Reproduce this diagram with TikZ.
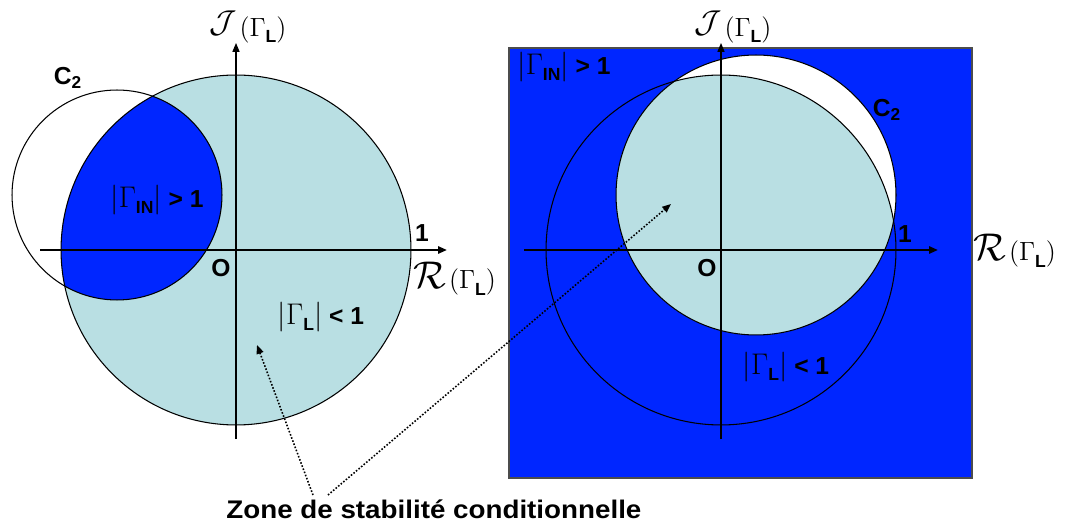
\RequirePackage{fix-cm}
\documentclass[tikz,border=0pt]{standalone}
\usepackage{fontspec}
\setmainfont{Liberation Sans}
\usetikzlibrary{arrows.meta}
\definecolor{dblue}{RGB}{0,38,255}
\definecolor{lblue}{RGB}{185,223,227}
\newcommand{\GL}{{\fontsize{15}{18}\selectfont$(\Gamma$\raisebox{-0.45ex}{\fontsize{10}{12}\selectfont\bfseries L}$)$}}
\newcommand{\Gabs}[1]{{\fontsize{17}{18}\selectfont$|\Gamma$}\raisebox{-0.5ex}{\fontsize{10}{12}\selectfont\bfseries #1}{\fontsize{17}{18}\selectfont$|$}}
\begin{document}
\begin{tikzpicture}[x=0.02cm,y=-0.02cm,
  lab/.style={font=\fontsize{14}{16}\selectfont\bfseries, inner sep=0pt},
  axlab/.style={inner sep=0pt, anchor=west},
  axisv/.style={-{Triangle[length=5pt,width=4pt]}, line width=0.6pt},
  axish/.style={-{Triangle[length=5pt,width=4pt]}, line width=1.2pt},
  circ/.style={line width=0.6pt},
  dotarrow/.style={densely dotted, line width=0.9pt, -{Triangle[length=5pt,width=4pt]}}
]
\useasboundingbox (0,0) rectangle (1067,526);
% ---------- left diagram ----------
\fill[lblue] (236,250) circle[radius=3.5cm];
\begin{scope}
  \clip (236,250) circle[radius=3.5cm];
  \fill[dblue] (117,195) circle[radius=2.1cm];
\end{scope}
\draw[circ] (236,250) circle[radius=3.5cm];
\draw[circ] (117,195) circle[radius=2.1cm];
\coordinate (LxA) at (40,250);  \coordinate (LxB) at (447,250);
\coordinate (LyA) at (236,439); \coordinate (LyB) at (236,43);
\draw[axish] (LxA) -- (LxB);
\draw[axisv] (LyA) -- (LyB);
\node[lab] (lC2) at (68,78) {C\textsubscript{2}};
\node[lab] (lgin) at (157,200) {\Gabs{IN} > 1};
\node[lab] (l1) at (422,233) {1};
\node[lab] (lO) at (221,268) {O};
\node[lab] (lgl) at (321,317) {\Gabs{L} < 1};
\node[axlab] (lR) at (413,279) {{\fontsize{22}{24}\selectfont$\mathcal{R}$}\,\GL};
\node[axlab] (lJ) at (209,27) {\raisebox{2pt}{\fontsize{18}{20}\selectfont$\mathcal{J}$}\,\GL};
% ---------- right diagram ----------
\fill[dblue] (509,48) rectangle (972,478);
\draw[line width=0.6pt, black!70] (509,48) rectangle (972,478);
\fill[white] (756,195) circle[radius=2.8cm];
\begin{scope}
  \clip (756,195) circle[radius=2.8cm];
  \fill[lblue] (721,250) circle[radius=3.5cm];
\end{scope}
\draw[circ] (721,250) circle[radius=3.5cm];
\draw[circ] (756,195) circle[radius=2.8cm];
\coordinate (RxA) at (524,250); \coordinate (RxB) at (938,250);
\coordinate (RyA) at (721,439); \coordinate (RyB) at (721,43);
\draw[axish] (RxA) -- (RxB);
\draw[axisv] (RyA) -- (RyB);
\node[lab] (rgin) at (564,67) {\Gabs{IN} > 1};
\node[lab] (rC2) at (887,110) {C\textsubscript{2}};
\node[lab] (r1) at (905,234) {1};
\node[lab] (rO) at (707,268) {O};
\node[lab] (rgl) at (786,367) {\Gabs{L} < 1};
\node[axlab] (rR) at (973,251) {{\fontsize{22}{24}\selectfont$\mathcal{R}$}\,\GL};
\node[axlab] (rJ) at (694,27) {\raisebox{2pt}{\fontsize{18}{20}\selectfont$\mathcal{J}$}\,\GL};
% ---------- caption and pointers ----------
\node[font=\fontsize{14.5}{17}\selectfont\bfseries\addfontfeatures{FakeStretch=1.09}, inner sep=0pt, anchor=base west] (zone) at (226,518) {Zone de stabilité conditionnelle};
\coordinate (s1) at (313,495); \coordinate (t1) at (257,345);
\coordinate (s2) at (328,495); \coordinate (t2) at (671,204);
\draw[dotarrow] (s1) -- (t1);
\draw[dotarrow] (s2) -- (t2);
\end{tikzpicture}
\end{document}
